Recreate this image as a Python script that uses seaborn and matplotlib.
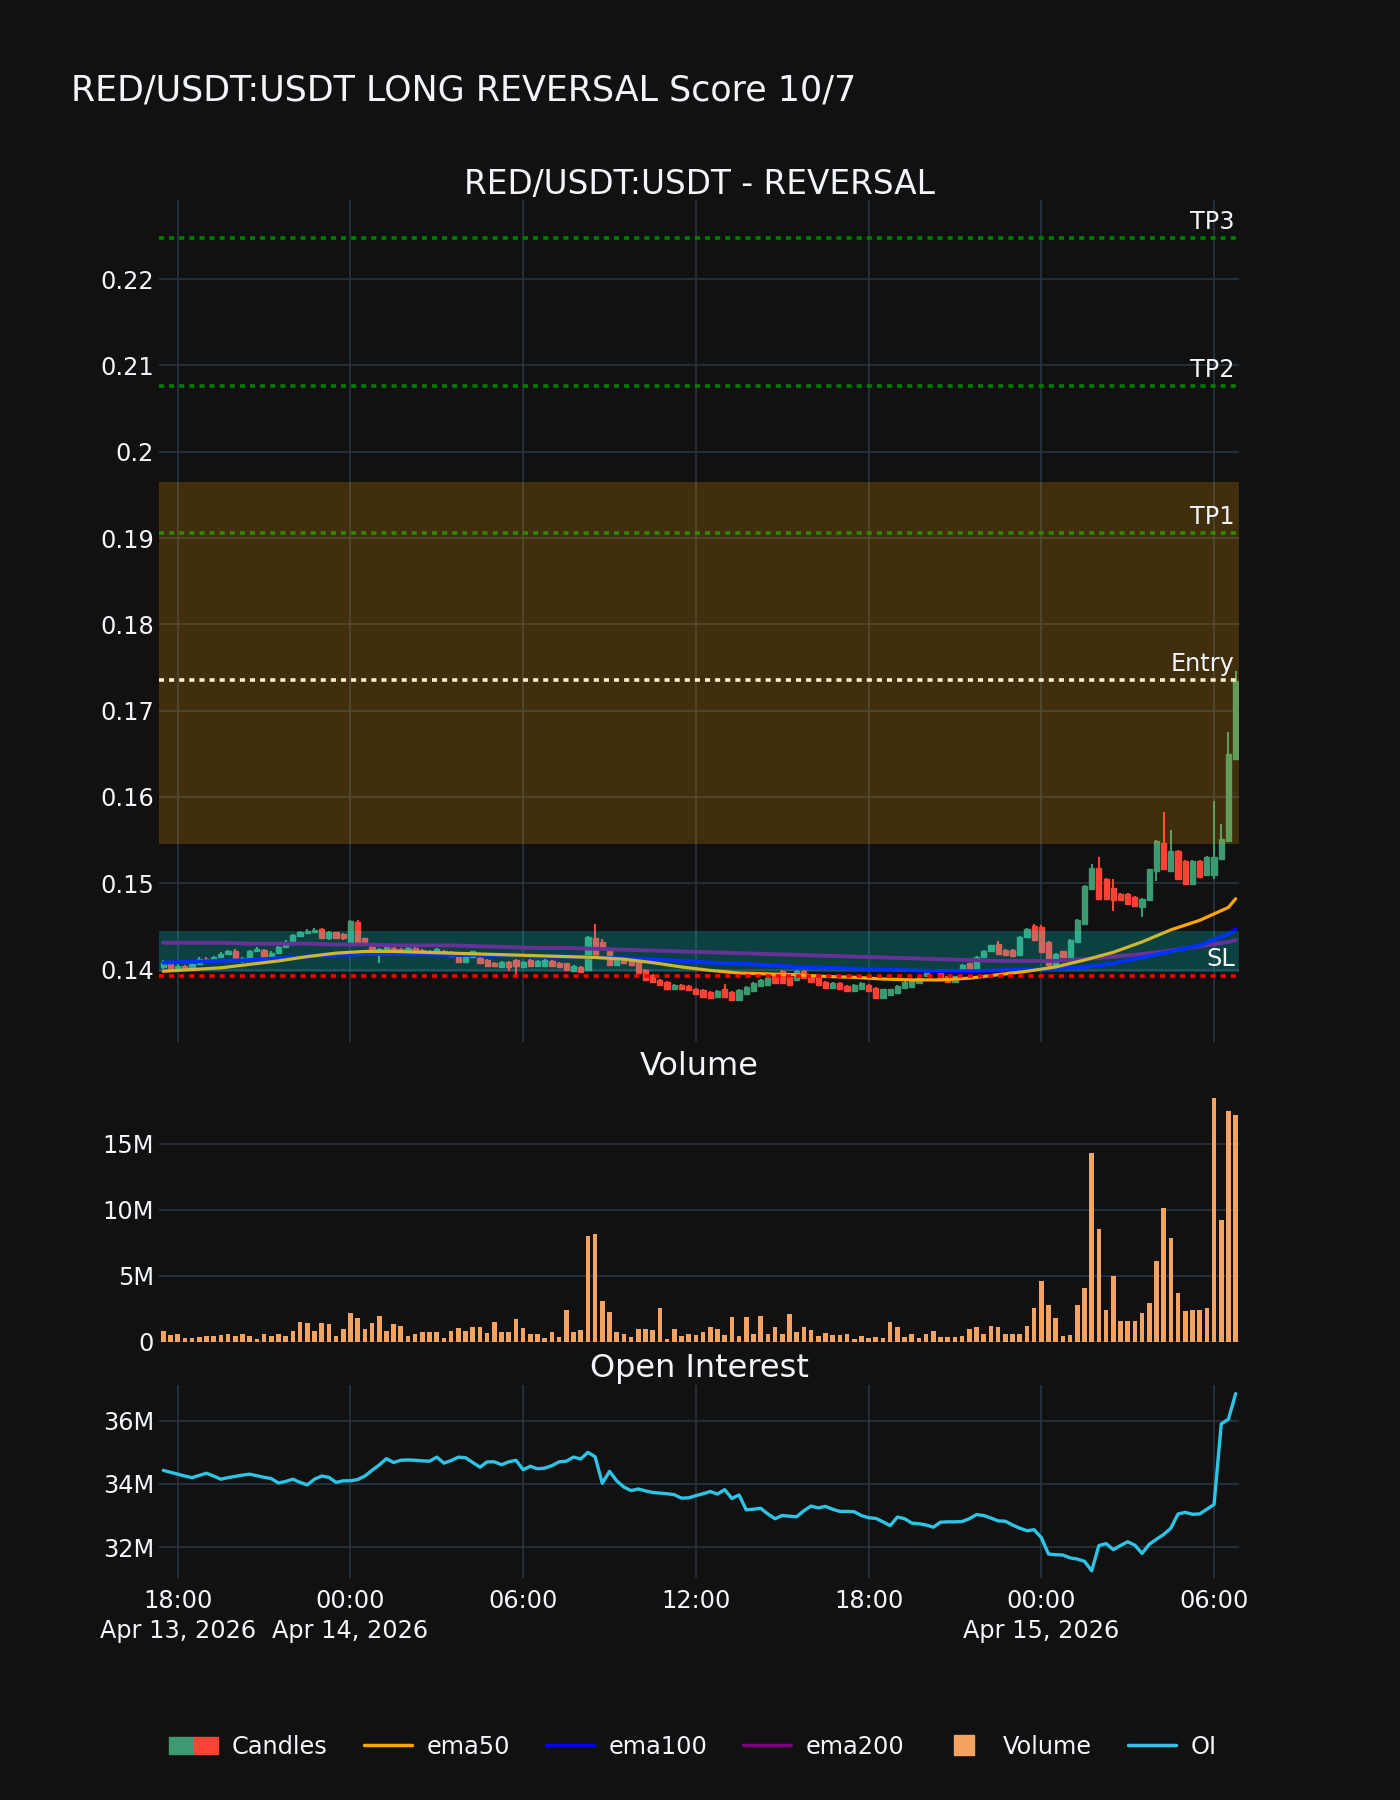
import numpy as np
import pandas as pd
import matplotlib
matplotlib.use("Agg")
import matplotlib.pyplot as plt
import matplotlib.dates as mdates
import matplotlib.transforms as mtrans
from matplotlib.patches import Patch
from matplotlib.lines import Line2D
from matplotlib.legend_handler import HandlerTuple
import seaborn as sns

# ---- data (15m candles) ----
start = "2026-04-13 17:30"

opens = [
    .1403, .1406, .1401, .1404, .1401, .1406, .1412, .1410, .1415, .1418,
    .1422, .1410, .1413, .1422, .1423, .1414, .1419, .1426, .1432, .1439,
    .1442, .1444, .1447, .1436, .1443, .1441, .1432, .1455, .1436, .1426,
    .1421, .1421, .1425, .1424, .1421, .1425, .1423, .1419, .1420, .1422,
    .1420, .1414, .1409, .1415, .1413, .1411, .1408, .1403, .1409, .1411,
    .1403, .1411, .1404, .1404, .1410, .1408, .1407, .1398, .1403, .1400,
    .1436, .1432, .1422, .1405, .1411, .1411, .1411, .1400, .1394, .1388,
    .1386, .1377, .1382, .1381, .1378, .1376, .1374, .1368, .1378, .1374,
    .1365, .1372, .1375, .1381, .1382, .1394, .1398, .1391, .1388, .1398,
    .1394, .1391, .1386, .1379, .1384, .1381, .1375, .1377, .1382, .1379,
    .1367, .1371, .1373, .1379, .1380, .1384, .1392, .1400, .1396, .1392,
    .1386, .1398, .1407, .1399, .1414, .1422, .1430, .1423, .1423, .1417,
    .1438, .1451, .1449, .1432, .1405, .1421, .1415, .1432, .1453, .1493,
    .1518, .1505, .1495, .1488, .1488, .1484, .1472, .1480, .1514, .1547,
    .1514, .1537, .1526, .1499, .1526, .1509, .1509, .1528, .1549, .1644,
]
closes = [
    .1409, .1401, .1404, .1401, .1406, .1412, .1410, .1415, .1418, .1422,
    .1410, .1413, .1422, .1424, .1414, .1419, .1426, .1432, .1440, .1443,
    .1445, .1446, .1436, .1444, .1437, .1436, .1456, .1432, .1432, .1421,
    .1424, .1426, .1421, .1421, .1425, .1421, .1419, .1422, .1424, .1418,
    .1416, .1409, .1415, .1421, .1407, .1404, .1404, .1409, .1403, .1404,
    .1409, .1404, .1410, .1411, .1404, .1403, .1400, .1404, .1397, .1438,
    .1417, .1426, .1405, .1413, .1407, .1405, .1396, .1388, .1386, .1382,
    .1377, .1382, .1377, .1376, .1372, .1368, .1367, .1375, .1368, .1365,
    .1376, .1380, .1384, .1388, .1390, .1384, .1384, .1382, .1398, .1390,
    .1386, .1382, .1379, .1384, .1377, .1375, .1382, .1384, .1375, .1367,
    .1377, .1377, .1381, .1386, .1388, .1390, .1399, .1398, .1388, .1386,
    .1392, .1405, .1399, .1415, .1422, .1428, .1418, .1417, .1416, .1438,
    .1447, .1434, .1420, .1405, .1418, .1415, .1434, .1457, .1497, .1518,
    .1482, .1482, .1480, .1480, .1476, .1474, .1482, .1516, .1549, .1516,
    .1537, .1505, .1499, .1526, .1507, .1530, .1530, .1551, .1650, .1734,
]
highs = [
    .1411, .1408, .1406, .1405, .1407, .1414, .1414, .1416, .1420, .1423,
    .1424, .1415, .1423, .1426, .1424, .1421, .1427, .1434, .1441, .1445,
    .1447, .1448, .1448, .1445, .1444, .1442, .1457, .1457, .1437, .1428,
    .1425, .1427, .1426, .1425, .1426, .1426, .1424, .1423, .1425, .1423,
    .1421, .1415, .1416, .1422, .1414, .1412, .1409, .1410, .1410, .1412,
    .1410, .1412, .1411, .1412, .1411, .1409, .1408, .1405, .1404, .1439,
    .1453, .1435, .1424, .1414, .1412, .1412, .1412, .1401, .1395, .1389,
    .1387, .1383, .1383, .1382, .1379, .1377, .1375, .1376, .1383, .1375,
    .1377, .1381, .1385, .1389, .1391, .1395, .1399, .1392, .1399, .1399,
    .1395, .1392, .1387, .1385, .1385, .1382, .1383, .1385, .1383, .1380,
    .1378, .1378, .1382, .1387, .1389, .1391, .1400, .1401, .1397, .1393,
    .1393, .1406, .1408, .1416, .1423, .1429, .1433, .1424, .1424, .1439,
    .1448, .1453, .1452, .1433, .1419, .1422, .1435, .1458, .1498, .1522,
    .1530, .1506, .1505, .1489, .1489, .1485, .1483, .1517, .1550, .1583,
    .1562, .1538, .1527, .1527, .1527, .1531, .1595, .1569, .1675, .1746,
]
lows = [
    .1401, .1399, .1399, .1399, .1400, .1405, .1408, .1409, .1414, .1417,
    .1409, .1408, .1412, .1420, .1413, .1413, .1418, .1425, .1431, .1438,
    .1441, .1443, .1435, .1434, .1436, .1434, .1430, .1430, .1429, .1420,
    .1408, .1420, .1419, .1420, .1420, .1420, .1418, .1418, .1419, .1417,
    .1415, .1408, .1408, .1414, .1406, .1403, .1403, .1402, .1398, .1394,
    .1402, .1403, .1403, .1403, .1403, .1402, .1399, .1397, .1396, .1399,
    .1415, .1425, .1404, .1404, .1406, .1404, .1395, .1387, .1385, .1381,
    .1376, .1376, .1376, .1375, .1371, .1367, .1366, .1367, .1367, .1364,
    .1364, .1371, .1374, .1380, .1381, .1383, .1383, .1381, .1387, .1389,
    .1385, .1381, .1378, .1378, .1376, .1374, .1374, .1376, .1374, .1366,
    .1366, .1370, .1372, .1378, .1379, .1383, .1391, .1397, .1387, .1385,
    .1385, .1397, .1398, .1398, .1413, .1421, .1417, .1416, .1415, .1416,
    .1437, .1433, .1419, .1403, .1403, .1414, .1414, .1431, .1452, .1492,
    .1480, .1481, .1468, .1479, .1475, .1473, .1461, .1479, .1503, .1515,
    .1513, .1504, .1498, .1498, .1506, .1508, .1505, .1527, .1548, .1643,
]

# volume in millions
volumes = [
    0.83, 0.50, 0.58, 0.25, 0.25, 0.33, 0.43, 0.45, 0.50, 0.55,
    0.43, 0.58, 0.45, 0.18, 0.55, 0.45, 0.55, 0.43, 0.83, 1.50,
    1.44, 0.80, 1.39, 1.31, 0.45, 0.96, 2.19, 1.82, 0.96, 1.44,
    1.94, 0.81, 1.31, 1.19, 0.45, 0.58, 0.71, 0.71, 0.71, 0.25,
    0.83, 1.00, 0.83, 1.10, 1.13, 0.68, 1.50, 0.76, 0.76, 1.70,
    1.00, 0.55, 0.55, 0.25, 0.76, 0.38, 2.37, 0.76, 0.88, 8.02,
    8.17, 3.08, 2.22, 0.76, 0.60, 0.38, 0.96, 0.96, 0.86, 2.52,
    0.18, 0.93, 0.40, 0.58, 0.50, 0.71, 1.13, 0.93, 0.50, 1.84,
    0.43, 1.84, 0.58, 1.97, 0.55, 1.13, 0.58, 2.07, 0.76, 1.13,
    0.88, 0.45, 0.68, 0.50, 0.53, 0.55, 0.18, 0.45, 0.25, 0.38,
    0.30, 1.50, 1.13, 0.38, 0.60, 0.25, 0.58, 0.80, 0.33, 0.35,
    0.35, 0.45, 0.93, 1.08, 0.60, 1.21, 1.13, 0.55, 0.55, 0.55,
    1.19, 2.52, 4.61, 2.77, 1.76, 0.43, 0.50, 2.77, 4.08, 14.30,
    8.57, 2.40, 4.99, 1.59, 1.59, 1.56, 2.19, 2.95, 6.10, 10.16,
    7.87, 3.66, 2.34, 2.40, 2.40, 2.57, 18.50, 9.20, 17.50, 17.20,
]

# open interest in millions
oi = [
    34.43, 34.37, 34.31, 34.25, 34.20, 34.27, 34.34, 34.25, 34.15, 34.20,
    34.24, 34.28, 34.31, 34.26, 34.21, 34.17, 34.03, 34.08, 34.15, 34.05,
    33.97, 34.15, 34.25, 34.21, 34.05, 34.10, 34.10, 34.14, 34.25, 34.43,
    34.60, 34.80, 34.68, 34.75, 34.76, 34.75, 34.73, 34.72, 34.85, 34.66,
    34.74, 34.85, 34.83, 34.68, 34.53, 34.70, 34.70, 34.61, 34.70, 34.75,
    34.45, 34.56, 34.48, 34.50, 34.58, 34.70, 34.72, 34.85, 34.79, 35.00,
    34.86, 34.02, 34.40, 34.10, 33.90, 33.79, 33.84, 33.78, 33.73, 33.71,
    33.69, 33.66, 33.55, 33.56, 33.63, 33.69, 33.76, 33.68, 33.82, 33.54,
    33.65, 33.18, 33.20, 33.23, 33.05, 32.90, 33.00, 32.98, 32.96, 33.15,
    33.30, 33.24, 33.29, 33.20, 33.13, 33.13, 33.12, 33.00, 32.93, 32.91,
    32.80, 32.68, 32.95, 32.90, 32.76, 32.74, 32.70, 32.63, 32.79, 32.80,
    32.80, 32.81, 32.90, 33.03, 33.00, 32.92, 32.83, 32.82, 32.70, 32.60,
    32.52, 32.55, 32.30, 31.78, 31.76, 31.75, 31.66, 31.62, 31.55, 31.25,
    32.05, 32.11, 31.92, 32.05, 32.17, 32.06, 31.80, 32.09, 32.25, 32.40,
    32.60, 33.05, 33.10, 33.04, 33.05, 33.20, 33.35, 35.90, 36.05, 36.86,
]

# EMAs sampled hourly (every 4th candle) plus the last candle
ema50 = [
    .1398, .1400, .1402, .1406, .1410, .1415, .1419, .1421, .1421, .1420,
    .1419, .1418, .1417, .1416, .1415, .1414, .1412, .1408, .1403, .1399,
    .1396, .1395, .1394, .1392, .1391, .1389, .1388, .1388, .1390, .1394,
    .1398, .1403, .1411, .1420, .1432, .1446, .1457, .1472, .1482,
]
ema100 = [
    .1408, .1409, .1410, .1411, .1413, .1415, .1417, .1418, .1418, .1418,
    .1417, .1417, .1416, .1415, .1415, .1414, .1413, .1412, .1410, .1408,
    .1407, .1405, .1403, .1402, .1401, .1400, .1399, .1398, .1398, .1399,
    .1400, .1401, .1403, .1407, .1414, .1421, .1428, .1441, .1447,
]
ema200 = [
    .1431, .1431, .1431, .1430, .1430, .1430, .1429, .1429, .1428, .1428,
    .1428, .1427, .1426, .1425, .1425, .1424, .1423, .1422, .1421, .1420,
    .1419, .1418, .1417, .1416, .1415, .1414, .1413, .1412, .1411, .1410,
    .1410, .1410, .1412, .1415, .1418, .1422, .1427, .1432, .1434,
]

# trade levels
tp3, tp2, tp1 = 0.2248, 0.2076, 0.1906
entry, sl = 0.1735, 0.1393
entry_zone = (0.1546, 0.1965)
sl_zone = (0.1397, 0.1445)

tick_times = ["2026-04-13 18:00", "2026-04-14 00:00", "2026-04-14 06:00",
              "2026-04-14 12:00", "2026-04-14 18:00", "2026-04-15 00:00",
              "2026-04-15 06:00"]
tick_labels = ["18:00\nApr 13, 2026", "00:00\nApr 14, 2026", "06:00", "12:00",
               "18:00", "00:00\nApr 15, 2026", "06:00"]

title = "RED/USDT:USDT LONG REVERSAL Score 10/7"

# ---- style ----
BG = "#111111"
GRID = "#283442"
TXT = "#f2f5fa"
GREEN = "#3D9970"
RED = "#FF4136"
VOLC = "#F4A460"
OIC = "#2EC4E6"

sns.set_theme(style="dark")
plt.rcParams["font.family"] = ["DejaVu Sans"]

times = pd.date_range(start, periods=len(closes), freq="15min")
df = pd.DataFrame({"time": times, "open": opens, "high": highs, "low": lows,
                   "close": closes, "volume": volumes, "oi": oi})
ema_times = list(times[::4]) + [times[-1]]
ema_df = pd.DataFrame({"time": ema_times, "ema50": ema50, "ema100": ema100, "ema200": ema200})

fig = plt.figure(figsize=(14, 18), dpi=100, facecolor=BG)
ax1 = fig.add_axes([0.1139, 0.4211, 0.7711, 0.4679])
ax2 = fig.add_axes([0.1139, 0.2547, 0.7711, 0.1420], sharex=ax1)
ax3 = fig.add_axes([0.1139, 0.1233, 0.7711, 0.1072], sharex=ax1)

for ax in (ax1, ax2, ax3):
    ax.set_facecolor(BG)
    for s in ax.spines.values():
        s.set_visible(False)
    ax.tick_params(length=0, labelsize=17.3, colors=TXT)
    ax.tick_params(axis="y", pad=4)
    ax.tick_params(axis="x", pad=8)
    ax.grid(True, color=GRID, lw=1.2)
    ax.set_axisbelow(True)

# candles
up = df["close"] >= df["open"]
ccol = np.where(up, GREEN, RED)
body_lo = df[["open", "close"]].min(axis=1)
body_h = (df["close"] - df["open"]).abs()
ax1.vlines(df["time"], df["low"], df["high"], colors=ccol, lw=1.5, zorder=2)
ax1.bar(df["time"], body_h, bottom=body_lo, width=0.72 / 96, color=ccol,
        edgecolor=ccol, lw=1.0, zorder=2)

sns.lineplot(data=ema_df, x="time", y="ema200", ax=ax1, color="purple", lw=2.8, zorder=3, legend=False)
sns.lineplot(data=ema_df, x="time", y="ema100", ax=ax1, color="blue", lw=2.8, zorder=3, legend=False)
sns.lineplot(data=ema_df, x="time", y="ema50", ax=ax1, color="orange", lw=2.3, zorder=3, legend=False)

dot = (0, (1.4, 1.4))
for lvl, col in [(tp3, "green"), (tp2, "green"), (tp1, "green"), (entry, "white"), (sl, "red")]:
    ax1.axhline(lvl, color=col, ls=dot, lw=2.6, zorder=3)

ax1.axhspan(*entry_zone, color="orange", alpha=0.2, lw=0, zorder=4)
ax1.axhspan(*sl_zone, color="cyan", alpha=0.2, lw=0, zorder=4)

trans = mtrans.blended_transform_factory(ax1.transAxes, ax1.transData)
for lvl, lab in [(tp3, "TP3"), (tp2, "TP2"), (tp1, "TP1"), (entry, "Entry"), (sl, "SL")]:
    ax1.annotate(lab, xy=(0.996, lvl), xycoords=trans, xytext=(0, 3),
                 textcoords="offset points", ha="right", va="bottom",
                 color=TXT, fontsize=17.3, zorder=5)

ax1.set_ylim(0.1316, 0.2292)
ax1.set_yticks([0.14, 0.15, 0.16, 0.17, 0.18, 0.19, 0.20, 0.21, 0.22])
ax1.yaxis.set_major_formatter(plt.FuncFormatter(lambda v, p: f"{v:g}"))

# volume
ax2.bar(df["time"], df["volume"], width=0.64 / 96, color=VOLC, lw=0, zorder=2)
ax2.set_ylim(0, 19.4)
ax2.set_yticks([0, 5, 10, 15])
ax2.yaxis.set_major_formatter(plt.FuncFormatter(lambda v, p: "0" if v == 0 else f"{v:g}M"))
ax2.xaxis.grid(False)

# open interest
sns.lineplot(data=df, x="time", y="oi", ax=ax3, color=OIC, lw=2.4, zorder=2, legend=False)
ax3.set_ylim(31.02, 37.13)
ax3.set_yticks([32, 34, 36])
ax3.yaxis.set_major_formatter(plt.FuncFormatter(lambda v, p: f"{v:g}M"))

for ax in (ax1, ax2, ax3):
    ax.set_xlabel("")
    ax.set_ylabel("")

ax1.set_xlim(times[0] - pd.Timedelta(minutes=8), times[-1] + pd.Timedelta(minutes=7))
ax3.set_xticks(mdates.date2num(pd.to_datetime(tick_times)))
ax3.set_xticklabels(tick_labels, linespacing=1.3)
plt.setp(ax1.get_xticklabels(), visible=False)
plt.setp(ax2.get_xticklabels(), visible=False)

# titles
fig.text(0.0507, 0.950, title, fontsize=25.1, color=TXT, ha="left", va="center")
fig.text(0.4995, 0.8975, "RED/USDT:USDT - REVERSAL", fontsize=23.6, color=TXT, ha="center", va="center")
fig.text(0.4995, 0.4075, "Volume", fontsize=23, color=TXT, ha="center", va="center")
fig.text(0.4995, 0.2400, "Open Interest", fontsize=23, color=TXT, ha="center", va="center")

# legend
handles = [
    (Patch(facecolor=GREEN, edgecolor=GREEN), Patch(facecolor=RED, edgecolor=RED)),
    Line2D([], [], color="orange", lw=2.5),
    Line2D([], [], color="blue", lw=2.5),
    Line2D([], [], color="purple", lw=2.5),
    Line2D([], [], color=VOLC, marker="s", ls="", markersize=15),
    Line2D([], [], color=OIC, lw=2.5),
]
labels = ["Candles", "ema50", "ema100", "ema200", "Volume", "OI"]
fig.legend(handles, labels, loc="center", bbox_to_anchor=(0.495, 0.0297), ncol=6,
           frameon=False, fontsize=17.3, labelcolor=TXT, handlelength=2.0,
           columnspacing=1.5, handletextpad=0.6,
           handler_map={tuple: HandlerTuple(ndivide=None, pad=0)})

fig.savefig("out.png", dpi=100, facecolor=BG)
